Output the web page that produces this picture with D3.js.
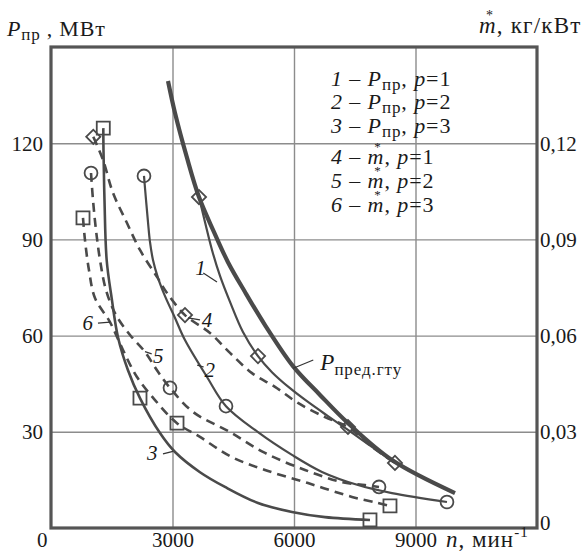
<!DOCTYPE html>
<html>
<head>
<meta charset="utf-8">
<script src="https://cdn.jsdelivr.net/npm/d3@7"></script>
<style>
  body { margin: 0; background: #fff; }
  text { font-family: "Liberation Serif", "Times New Roman", serif; fill: #1a1a1a; }
</style>
</head>
<body>
<svg></svg>
<script>
const width = 584;
const height = 552;

// axes
const xTicks = [3000, 6000, 9000];
const yTicks = [30, 60, 90, 120];
const mTicks = [0, 0.03, 0.06, 0.09, 0.12];

// limiting power of the gas turbine unit, n (min^-1) -> MW
const limitN = [2889, 3062, 3350, 3654, 4025, 4370, 4790, 5284, 5975, 6642, 7333, 8419, 9975];
const limitP = [139.4, 129.4, 115.8, 103.2, 92.3, 82.9, 73.6, 63.3, 50.5, 41.5, 32.7, 21.2, 10.9];

// curve 1..3 : P_pr for p = 1, 2, 3 (MW)
const p1N = [3654, 3802, 3975, 4173, 4420, 4740, 5111, 5456, 5901, 6345, 6839, 7333, 7925, 8493];
const p1P = [103.2, 95.4, 86.7, 78.6, 70.5, 61.1, 53.6, 48.6, 43.6, 39.3, 34.9, 30.6, 25.3, 20.3];
const p2N = [2296, 2346, 2395, 2444, 2518, 2642, 2815, 3062, 3308, 3852, 4321, 5111, 5950, 6691, 7580, 8419, 9777];
const p2P = [109.8, 102.3, 95.4, 89.2, 83.6, 78.0, 72.3, 65.5, 58.6, 47.1, 38.0, 29.9, 22.8, 17.5, 13.4, 10.9, 8.1];
const p3N = [1291, 1296, 1321, 1375, 1499, 1654, 1901, 2197, 2691, 3062, 3679, 4296, 5111, 5950, 6765, 7876];
const p3P = [124.7, 117.8, 102.2, 83.5, 71.6, 59.5, 49.2, 40.5, 29.6, 23.7, 17.4, 12.8, 7.8, 5.0, 3.4, 2.5];

// curve 4..6 : m* for p = 1, 2, 3 (kg/kW)
const m1N = [1044, 1284, 1531, 1876, 2197, 2617, 2864, 3308, 3926, 4420, 4963, 5531, 6098, 6765, 7333, 7925, 8493];
const m1M = [0.1220, 0.1148, 0.1045, 0.0951, 0.0867, 0.0783, 0.0733, 0.0664, 0.0608, 0.0546, 0.0483, 0.0440, 0.0390, 0.0346, 0.0315, 0.0253, 0.0203];
const m2N = [988, 1037, 1111, 1210, 1358, 1605, 1951, 2321, 2642, 2938, 3506, 4420, 5284, 6271, 7185, 7753, 8099];
const m2M = [0.1107, 0.1023, 0.0929, 0.0836, 0.0742, 0.0664, 0.0602, 0.0549, 0.0487, 0.0437, 0.0362, 0.0299, 0.0234, 0.0181, 0.0143, 0.0134, 0.0128];
const m3N = [790, 839, 938, 1086, 1457, 1778, 2123, 2568, 3111, 3679, 4420, 5284, 6345, 7432, 8074, 8370];
const m3M = [0.0967, 0.0898, 0.0804, 0.0717, 0.0642, 0.0555, 0.0471, 0.0399, 0.0327, 0.0284, 0.0224, 0.0181, 0.0140, 0.0097, 0.0078, 0.0069];

// measured points (markers)
const mk1N = [3654, 5111], mk1V = [103.2, 53.6];
const mk2N = [2296, 4321, 9777], mk2V = [109.8, 38.0, 8.1];
const mk3N = [1291, 2197, 7876], mk3V = [124.7, 40.5, 2.5];
const mk4N = [1044, 3308, 7333, 8493], mk4V = [0.122, 0.0664, 0.0315, 0.0203];
const mk5N = [988, 2938, 8099], mk5V = [0.1107, 0.0437, 0.0128];
const mk6N = [790, 3111, 8370], mk6V = [0.0967, 0.0327, 0.0069];

const legendNum = ["1", "2", "3", "4", "5", "6"];
const legendVar = ["P", "P", "P", "m", "m", "m"];
const legendP = [1, 2, 3, 1, 2, 3];

const ink = "#4a4a4a";
const grid = "#8c8c8c";

const svg = d3.select("svg")
  .attr("width", width)
  .attr("height", height);

const x = d3.scaleLinear().domain([0, 12000]).range([51, 537]);
const y = d3.scaleLinear().domain([0, 150]).range([528, 47]);
const y2 = d3.scaleLinear().domain([0, 0.15]).range([528, 47]);

// ---- grid + axes
const gx = svg.append("g")
  .attr("transform", "translate(0," + y(0) + ")")
  .call(d3.axisBottom(x).tickValues(xTicks).tickSize(-(y(0) - y(150))).tickFormat(d3.format("d")));
const gy = svg.append("g")
  .attr("transform", "translate(" + x(0) + ",0)")
  .call(d3.axisLeft(y).tickValues(yTicks).tickSize(-(x(12000) - x(0))));
const gy2 = svg.append("g")
  .attr("transform", "translate(" + x(12000) + ",0)")
  .call(d3.axisRight(y2).tickValues(mTicks).tickSize(0)
    .tickFormat(function (d) { return d === 0 ? "0" : d3.format(".2f")(d).replace(".", ","); }));

[gx, gy, gy2].forEach(function (g) {
  g.attr("font-family", null);
  g.select(".domain").remove();
  g.selectAll("line").attr("stroke", grid).attr("stroke-width", 1.4);
  g.selectAll("text").attr("font-size", 21).attr("fill", "#1a1a1a");
});
gx.selectAll("text").attr("dy", null).attr("y", 19);
gy.selectAll("text").attr("x", -8).attr("dy", "0.34em");
gy2.selectAll("text").attr("x", 3).attr("dy", "0.34em");
gy2.selectAll("text").filter(function (d) { return d === 0; }).attr("dy", "0.05em");

svg.append("text").attr("x", x(0) - 14).attr("y", y(0) + 19)
  .attr("font-size", 21).text("0");

// frame
svg.append("rect")
  .attr("x", x(0)).attr("y", y(150))
  .attr("width", x(12000) - x(0)).attr("height", y(0) - y(150))
  .attr("fill", "none").attr("stroke", "#555").attr("stroke-width", 3.2);

// ---- curves
const lineP = d3.line()
  .x(function (d) { return x(d[0]); })
  .y(function (d) { return y(d[1]); })
  .curve(d3.curveCatmullRom.alpha(0.5));
const lineM = d3.line()
  .x(function (d) { return x(d[0]); })
  .y(function (d) { return y2(d[1]); })
  .curve(d3.curveCatmullRom.alpha(0.5));

const curves = [
  {n: limitN, v: limitP, line: lineP, w: 4.2, dash: null},
  {n: p1N, v: p1P, line: lineP, w: 2.2, dash: null},
  {n: p2N, v: p2P, line: lineP, w: 2.2, dash: null},
  {n: p3N, v: p3P, line: lineP, w: 2.6, dash: null},
  {n: m1N, v: m1M, line: lineM, w: 2.6, dash: "9,6"},
  {n: m2N, v: m2M, line: lineM, w: 2.6, dash: "9,6"},
  {n: m3N, v: m3M, line: lineM, w: 2.6, dash: "9,6"}
];

svg.append("g").selectAll("path")
  .data(curves)
  .enter().append("path")
    .attr("d", function (c) { return c.line(d3.zip(c.n, c.v)); })
    .attr("fill", "none")
    .attr("stroke", ink)
    .attr("stroke-width", function (c) { return c.w; })
    .attr("stroke-dasharray", function (c) { return c.dash; });

// ---- markers
const markerSets = [
  {n: mk1N, v: mk1V, sc: y, shape: "diamond"},
  {n: mk2N, v: mk2V, sc: y, shape: "circle"},
  {n: mk3N, v: mk3V, sc: y, shape: "square"},
  {n: mk4N, v: mk4V, sc: y2, shape: "diamond"},
  {n: mk5N, v: mk5V, sc: y2, shape: "circle"},
  {n: mk6N, v: mk6V, sc: y2, shape: "square"}
];
const symbolType = {diamond: d3.symbolSquare, circle: d3.symbolCircle, square: d3.symbolSquare};
const symbolSize = {diamond: 100, circle: 130, square: 170};

markerSets.forEach(function (s) {
  svg.append("g").selectAll("path")
    .data(d3.zip(s.n, s.v))
    .enter().append("path")
      .attr("transform", function (d) {
        const r = s.shape === "diamond" ? " rotate(45)" : "";
        return "translate(" + x(d[0]) + "," + s.sc(d[1]) + ")" + r;
      })
      .attr("d", d3.symbol().type(symbolType[s.shape]).size(symbolSize[s.shape]))
      .attr("fill", "none")
      .attr("stroke", ink)
      .attr("stroke-width", 1.8);
});

// ---- curve labels (positions in data units of the left axis)
const tags = [
  {t: "1", at: [3560, 79.0], from: [3760, 79.5], to: [4099, 76.7]},
  {t: "2", at: [3790, 47.0], from: [3610, 50.8], to: [3770, 50.2]},
  {t: "3", at: [2370, 21.2], from: [2765, 23.1], to: [3012, 23.9]},
  {t: "4", at: [3720, 62.6], from: [3383, 65.5], to: [3679, 64.9]},
  {t: "5", at: [2520, 51.6], from: [2321, 55.0], to: [2486, 54.3]},
  {t: "6", at: [780, 61.6], from: [1160, 63.9], to: [1457, 64.2]}
];
tags.forEach(function (g) {
  svg.append("line")
    .attr("x1", x(g.from[0])).attr("y1", y(g.from[1]))
    .attr("x2", x(g.to[0])).attr("y2", y(g.to[1]))
    .attr("stroke", "#333").attr("stroke-width", 1.2);
  svg.append("text")
    .attr("x", x(g.at[0])).attr("y", y(g.at[1]))
    .attr("font-size", 21).attr("font-style", "italic")
    .text(g.t);
});

// P пред.гту
svg.append("line")
  .attr("x1", x(5982)).attr("y1", y(49.8))
  .attr("x2", x(6476)).attr("y2", y(52.4))
  .attr("stroke", "#333").attr("stroke-width", 1.2);
const pLim = svg.append("text").attr("x", x(6650)).attr("y", y(49.2)).attr("font-size", 23);
pLim.append("tspan").attr("font-style", "italic").text("P");
pLim.append("tspan").attr("font-size", 17).attr("letter-spacing", 0.9).attr("dy", 5).text("пред.гту");

// ---- legend
function mStar(textSel, idx, size) {
  const box = textSel.node().getExtentOfChar(idx);
  svg.append("text")
    .attr("x", box.x + box.width / 2 + 1.5)
    .attr("y", box.y + 7)
    .attr("text-anchor", "middle")
    .attr("font-size", size)
    .text("*");
}

const legendY = [86, 109, 133, 164, 188, 212];
legendNum.forEach(function (num, i) {
  const t = svg.append("text").attr("x", 331).attr("y", legendY[i])
    .attr("font-size", 22).attr("letter-spacing", 0.9);
  t.append("tspan").attr("font-style", "italic").text(num);
  t.append("tspan").text(" – ");
  t.append("tspan").attr("font-style", "italic").text(legendVar[i]);
  if (legendVar[i] === "P") {
    t.append("tspan").attr("font-size", 17).attr("dy", 4).text("пр");
    t.append("tspan").attr("dy", -4).text(", ");
  } else {
    t.append("tspan").text(", ");
  }
  t.append("tspan").attr("font-style", "italic").text("p");
  t.append("tspan").text("=" + legendP[i]);
  if (legendVar[i] === "m") mStar(t, num.length + 3, 13);
});

// ---- axis titles
const tl = svg.append("text").attr("x", 7).attr("y", 36).attr("font-size", 22).attr("letter-spacing", 0.8);
tl.append("tspan").attr("font-style", "italic").text("P");
tl.append("tspan").attr("font-size", 17).attr("dy", 4).text("пр");
tl.append("tspan").attr("dy", -4).text(" , МВт");

const tr = svg.append("text").attr("x", 479).attr("y", 33).attr("font-size", 23).attr("letter-spacing", 1.2);
tr.append("tspan").attr("font-style", "italic").text("m");
tr.append("tspan").text(", кг/кВт");
mStar(tr, 0, 14);

const tb = svg.append("text").attr("x", 446).attr("y", 547).attr("font-size", 23).attr("letter-spacing", 1);
tb.append("tspan").attr("font-style", "italic").text("n");
tb.append("tspan").text(", мин");
tb.append("tspan").attr("font-size", 15).attr("dy", -10).text("-1");
</script>
</body>
</html>
